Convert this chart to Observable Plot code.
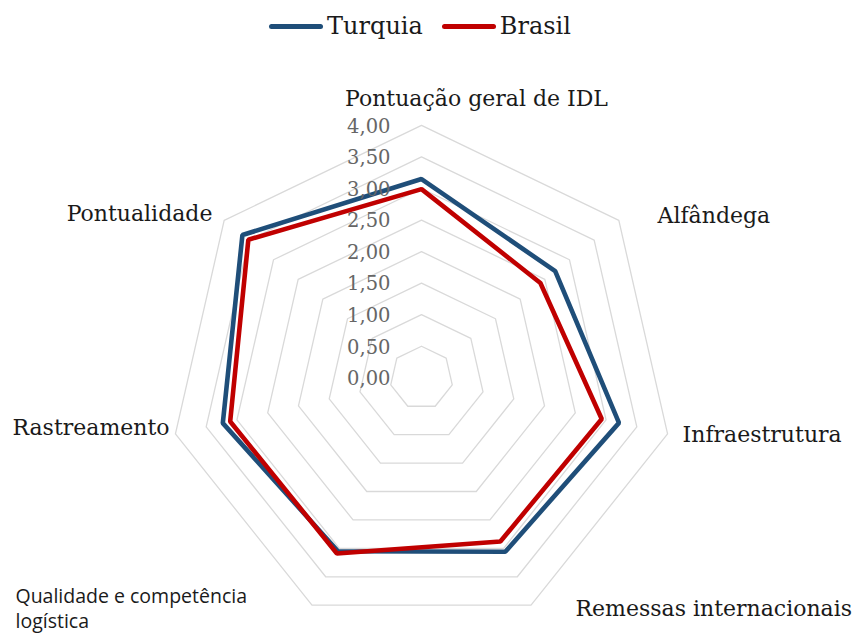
<!DOCTYPE html>
<html><head><meta charset="utf-8">
<script src="https://cdn.jsdelivr.net/npm/d3@7"></script>
<script src="https://cdn.jsdelivr.net/npm/@observablehq/plot@0.6"></script>
<style>
body{margin:0;background:#fff;width:854px;height:635px;overflow:hidden}
#legend{height:50px;display:flex;justify-content:center;align-items:flex-start;padding-right:14px;box-sizing:border-box}
.item{display:flex;align-items:center;height:36px;margin-top:8px;font-family:"DejaVu Serif";font-size:24px;color:#1a1a1a}
.item + .item{margin-left:19px}
.sw{width:54px;height:5px;border-radius:2.5px;margin-right:4px}
#chart svg{display:block}
</style></head><body>
<div id="legend"></div>
<div id="chart"></div>
<script>
// ---- data ----
const categories = [
  "Pontuação geral de IDL",
  "Alfândega",
  "Infraestrutura",
  "Remessas internacionais",
  "Qualidade e competência logística",
  "Rastreamento",
  "Pontualidade"
];
const turquia = [3.15, 2.71, 3.21, 3.06, 3.05, 3.23, 3.63];
const brasil  = [2.99, 2.41, 2.93, 2.88, 3.09, 3.11, 3.51];
const seriesNames = ["Turquia", "Brasil"];
const tickValues = [0, 0.5, 1, 1.5, 2, 2.5, 3, 3.5, 4];
const tickLabels = ["0,00", "0,50", "1,00", "1,50", "2,00", "2,50", "3,00", "3,50", "4,00"];

// ---- styles / layout ----
const seriesColors = ["#1f4e79", "#c00000"];
const W = 854, H = 585, cx = 421, cy = 327.3, k = 63.1;
const serif = "DejaVu Serif", sans = "Open Sans";
const labelLayout = [
  {anchor: "middle", dx: 55, dy: -19},
  {anchor: "start", dx: 38.7, dy: 3},
  {anchor: "start", dx: 15, dy: 8.5},
  {anchor: "start", dx: 44.5, dy: 10.3},
  {anchor: "start", dx: -296.5, dy: 23, sans: true},
  {anchor: "end", dx: -5.9, dy: 1.5},
  {anchor: "end", dx: -11.7, dy: 0.8}
];

const n = categories.length;
const ang = i => i * 2 * Math.PI / n;
const px = (v, i) => v * Math.sin(ang(i));
const py = (v, i) => v * Math.cos(ang(i));

// legend
const legend = document.getElementById("legend");
seriesNames.forEach((s, j) => {
  const it = document.createElement("div");
  it.className = "item";
  const sw = document.createElement("span");
  sw.className = "sw";
  sw.style.background = seriesColors[j];
  it.appendChild(sw);
  it.appendChild(document.createTextNode(s));
  legend.appendChild(it);
});

// rows
const rings = [];
tickValues.filter(v => v > 0).forEach(v => {
  categories.forEach((c, i) => rings.push({ring: v, x: px(v, i), y: py(v, i)}));
});
const rows = [];
[turquia, brasil].forEach((vals, j) => {
  vals.forEach((v, i) => rows.push({series: seriesNames[j], cat: categories[i], x: px(v, i), y: py(v, i)}));
});

const marks = [
  Plot.line(rings, {x: "x", y: "y", z: "ring", curve: "linear-closed", stroke: "#d9d9d9", strokeWidth: 1.3}),
  Plot.line(rows, {x: "x", y: "y", z: "series", stroke: "series", curve: "linear-closed", strokeWidth: 4.6, strokeLinejoin: "miter"}),
  Plot.text(tickValues, {x: () => 0, y: d => d, text: (d, i) => tickLabels[i], textAnchor: "end", dx: -31, dy: 1,
    fill: "#666", fontSize: 19.5, fontFamily: serif})
];
categories.forEach((c, i) => {
  const L = labelLayout[i];
  marks.push(Plot.text([c], {
    x: () => px(4, i), y: () => py(4, i),
    text: d => L.sans ? d.replace(" logística", "\nlogística") : d,
    textAnchor: L.anchor, lineAnchor: "bottom", lineHeight: L.sans ? 1.3 : 1.2,
    dx: L.dx, dy: L.dy,
    fill: "#1a1a1a",
    fontSize: L.sans ? 19.5 : 22,
    fontFamily: L.sans ? sans : serif
  }));
});

const chart = Plot.plot({
  width: W, height: H, margin: 0,
  x: {domain: [-cx / k, (W - cx) / k], axis: null},
  y: {domain: [-(H - cy) / k, cy / k], axis: null},
  color: {domain: seriesNames, range: seriesColors},
  style: {background: "#fff", overflow: "visible"},
  marks
});
document.getElementById("chart").appendChild(chart);
</script>
</body></html>
